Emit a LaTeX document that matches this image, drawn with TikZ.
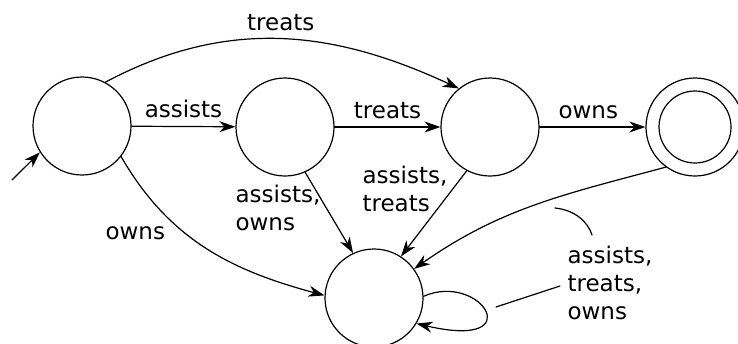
\documentclass[tikz,border=0pt]{standalone}
\usepackage{fontspec}
\setmainfont{DejaVu Sans}
\usetikzlibrary{arrows.meta}
\tikzset{
  state/.style={circle, draw, minimum size=98pt, inner sep=0pt},
  elbl/.style={inner sep=8pt},
  mlbl/.style={inner sep=0pt, align=left, anchor=north west},
}
\begin{document}
\begin{tikzpicture}[x=1pt, y=-1pt, line width=1.2pt, line join=round, line cap=round,
    >={Stealth[length=16pt,width=11pt,inset=5pt]},
    font=\fontsize{23}{28}\selectfont]
\useasboundingbox (0,0) rectangle (738,343);
% states
\node[state] (q0) at (82,126) {};
\node[state] (q1) at (285,127) {};
\node[state] (q2) at (490,127) {};
\node[state] (q3) at (695,127) {};
\draw (q3) circle (36);
\node[state] (q4) at (374,298) {};
\coordinate (init) at (12,180);
% transitions
\draw[->] (init) -- (q0.212);
\draw[->] (q0) -- node[above, elbl] {assists} (q1);
\draw[->] (q1) -- node[above, elbl] {treats} (q2);
\draw[->] (q2) -- node[above, elbl, pos=.46] {owns} (q3);
\draw[->] (q0.62) to[out=28, in=155] node[above, elbl] {treats} (q2.129);
\draw[->] (q0.-38) to[out=-60, in=165] (q4.177);
\draw[->] (q1.-66) -- (q4.115);
\draw[->] (q2.-118) -- (q4.57);
\draw[->] (q3.-126) to[out=195, in=35] (q4.36);
\draw[->] (q4.2) .. controls +(57,-25) and +(115,27) .. (q4.-31);
% labels
\node[inner sep=0pt, anchor=base west] (lowns) at (105,239) {owns};
\node[mlbl] (lao) at (235,184.5) {assists,\\owns};
\node[mlbl] (lat) at (362,165.5) {assists,\\treats};
\node[mlbl] (lloop) at (567,245.5) {assists,\\treats,\\owns};
\coordinate (la) at (592,235);
\coordinate (lb) at (555,208);
\coordinate (lc) at (560,286);
\coordinate (ld) at (496,307);
\draw (la) .. controls (588,222) and (575,210) .. (lb);
\draw (lc) -- (ld);
\end{tikzpicture}
\end{document}
